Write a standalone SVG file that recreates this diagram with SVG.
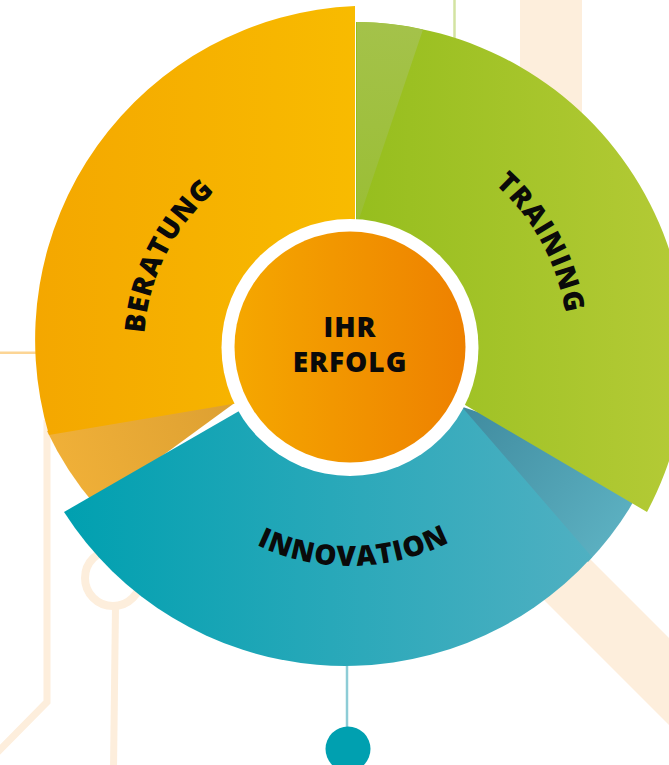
<svg xmlns="http://www.w3.org/2000/svg" width="669" height="765" viewBox="0 0 669 765">
<defs>
  <linearGradient id="gY" gradientUnits="userSpaceOnUse" x1="35" y1="0" x2="355" y2="0">
    <stop offset="0" stop-color="#F4A700"/><stop offset="1" stop-color="#F8BB00"/>
  </linearGradient>
  <linearGradient id="gG" gradientUnits="userSpaceOnUse" x1="356" y1="0" x2="669" y2="0">
    <stop offset="0" stop-color="#96BE1E"/><stop offset="1" stop-color="#B3CA35"/>
  </linearGradient>
  <linearGradient id="gT" gradientUnits="userSpaceOnUse" x1="64" y1="0" x2="630" y2="0">
    <stop offset="0" stop-color="#00A0B0"/><stop offset="1" stop-color="#55B1C3"/>
  </linearGradient>
  <linearGradient id="gO" gradientUnits="userSpaceOnUse" x1="235" y1="0" x2="465" y2="0">
    <stop offset="0" stop-color="#F5A700"/><stop offset="1" stop-color="#EE8100"/>
  </linearGradient>
  <linearGradient id="gYF" gradientUnits="userSpaceOnUse" x1="60" y1="470" x2="235" y2="408">
    <stop offset="0" stop-color="#F0B038"/><stop offset="1" stop-color="#DDA032"/>
  </linearGradient>
  <linearGradient id="gGF" gradientUnits="userSpaceOnUse" x1="390" y1="25" x2="360" y2="225">
    <stop offset="0" stop-color="#A4C24A"/><stop offset="1" stop-color="#9ABE34"/>
  </linearGradient>
  <linearGradient id="gTF" gradientUnits="userSpaceOnUse" x1="460" y1="402" x2="615" y2="530">
    <stop offset="0" stop-color="#3F8A9E"/><stop offset="1" stop-color="#5BAFC0"/>
  </linearGradient>
  <path id="pB" d="M161.1,429.1 A206,206 0 0 1 301.9,146.7"/>
  <path id="pT" d="M393.5,133.4 A218,218 0 0 1 552.8,426.9"/>
  <path id="pI" d="M162.3,459.8 A219,219 0 0 0 541.5,453.2"/>
</defs>
<style>
  .lbl{font-family:"Open Sans","Liberation Sans",sans-serif;font-weight:800;font-size:28px;fill:#0A0A0A;letter-spacing:1px}
  .deco{fill:none;stroke:#FDEEDC}
</style>

<g id="background">
  <rect x="520" y="0" width="62" height="200" fill="#FDEEDC"/>
  <line x1="470" y1="482.5" x2="820" y2="832.5" stroke="#FDEEDC" stroke-width="61.5"/>
  <polyline class="deco" points="47,420 47,702 -20,770" stroke-width="7"/>
  <circle class="deco" cx="113" cy="578" r="28" stroke-width="8"/>
  <line class="deco" x1="115.5" y1="606" x2="113.5" y2="770" stroke-width="7"/>
  <line x1="0" y1="352.7" x2="40" y2="352.7" stroke="#FCD595" stroke-width="2.5"/>
  <line x1="454.5" y1="0" x2="454.5" y2="60" stroke="#D3E3A2" stroke-width="2.5"/>
</g>

<g id="connectors">
  <line x1="347" y1="660" x2="347" y2="735" stroke="#8DCCD6" stroke-width="2.5"/>
  <circle cx="348" cy="749" r="22.5" fill="#00A0B0"/>
</g>

<g id="node-beratung">
  <path d="M240,399 L47,431 A330,330 0 0 0 95,505 Z" fill="url(#gYF)"/>
  <path d="M355,6 A334,334 0 0 0 49,435 L350,384 L355,384 Z" fill="url(#gY)"/>
  <text class="lbl"><textPath href="#pB" startOffset="50%" text-anchor="middle">BERATUNG</textPath></text>
</g>

<g id="node-innovation">
  <path d="M451,403 L588,562 A334,334 0 0 0 650,470 Z" fill="url(#gTF)"/>
  <path d="M64,512 A334,334 0 0 0 592,557 L455,399 L400,340 L350,347 Z" fill="url(#gT)"/>
  <text class="lbl"><textPath href="#pI" startOffset="50%" text-anchor="middle">INNOVATION</textPath></text>
</g>

<g id="node-training">
  <path d="M356,22 A333,333 0 0 1 647,512 L460,402 L350,340 L356,340 Z" fill="url(#gG)"/>
  <path d="M357,225 L357,22 A333,333 0 0 1 423,29.4 Z" fill="url(#gGF)"/>
  <text class="lbl"><textPath href="#pT" startOffset="50%" text-anchor="middle">TRAINING</textPath></text>
</g>

<g id="node-center">
  <circle cx="350" cy="347.5" r="128.5" fill="#FFFFFF"/>
  <circle cx="350" cy="347" r="115.5" fill="url(#gO)"/>
  <text class="lbl" x="350" y="336.7" text-anchor="middle">IHR</text>
  <text class="lbl" x="350" y="371.7" text-anchor="middle">ERFOLG</text>
</g>
</svg>
